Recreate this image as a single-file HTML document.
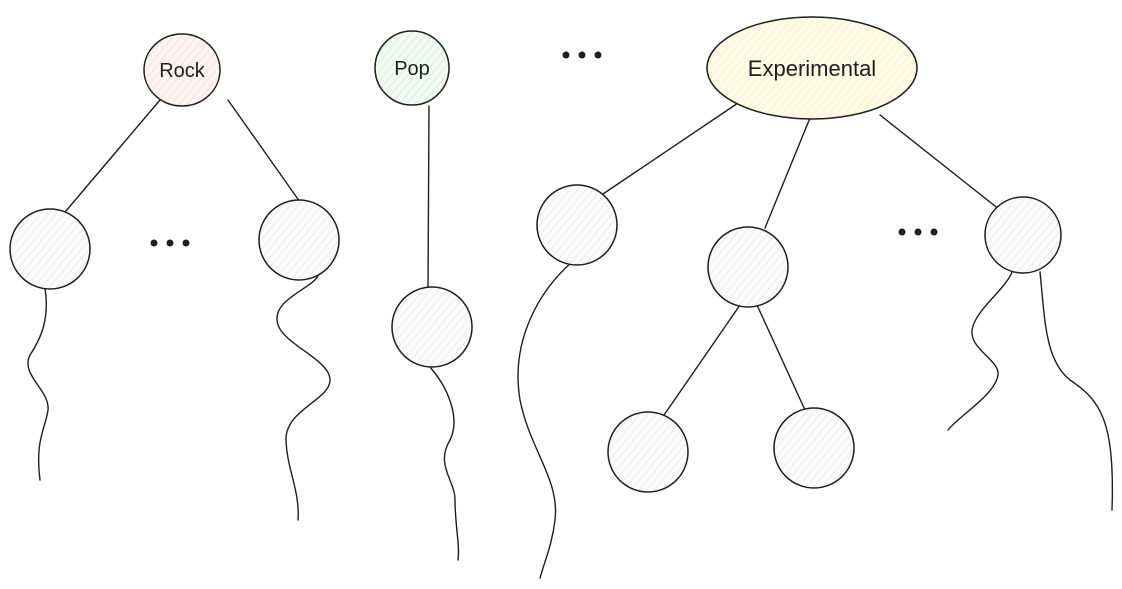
<!DOCTYPE html>
<html><head><meta charset="utf-8"><style>
html,body{margin:0;padding:0;background:#fff;width:1122px;height:589px;overflow:hidden}
text{font-family:"Liberation Sans",sans-serif;fill:#1e1e1e}
</style></head><body>
<svg width="1122" height="589" viewBox="0 0 1122 589" xmlns="http://www.w3.org/2000/svg">
<defs>
<pattern id="hg" width="6" height="6" patternUnits="userSpaceOnUse" patternTransform="rotate(40)"><rect width="6" height="6" fill="#fbfbfb"/><line x1="0" y1="0" x2="0" y2="6" stroke="#e4e4e4" stroke-width="1.5"/></pattern>
<pattern id="hr" width="6" height="6" patternUnits="userSpaceOnUse" patternTransform="rotate(40)"><rect width="6" height="6" fill="#fff4f4"/><line x1="0" y1="0" x2="0" y2="6" stroke="#ffd6d6" stroke-width="1.5"/></pattern>
<pattern id="hgr" width="6" height="6" patternUnits="userSpaceOnUse" patternTransform="rotate(40)"><rect width="6" height="6" fill="#f2fbf4"/><line x1="0" y1="0" x2="0" y2="6" stroke="#cdeed4" stroke-width="1.5"/></pattern>
<pattern id="hy" width="6" height="6" patternUnits="userSpaceOnUse" patternTransform="rotate(40)"><rect width="6" height="6" fill="#fffbea"/><line x1="0" y1="0" x2="0" y2="6" stroke="#fdefb8" stroke-width="1.5"/></pattern>
</defs>
<g stroke="#1e1e1e" stroke-width="1.4" fill="none" stroke-linecap="round">
<line x1="160" y1="100" x2="60" y2="218"/>
<line x1="228" y1="100" x2="300" y2="202"/>
<line x1="429" y1="106" x2="428" y2="289"/>
<line x1="738" y1="103" x2="600" y2="196"/>
<line x1="810" y1="118" x2="765" y2="228"/>
<line x1="880" y1="115" x2="1000" y2="210"/>
<line x1="740" y1="305" x2="662" y2="418"/>
<line x1="757" y1="305" x2="805" y2="410"/>
<path d="M45 288 C50 320 40 340 30 355 C20 375 50 390 48 410 C45 430 35 440 40 480"/>
<path d="M318 276 C310 290 270 300 278 325 C285 345 330 360 330 380 C330 400 285 410 286 440 C287 470 300 490 298 520"/>
<path d="M430 367 C450 390 460 420 450 440 C435 465 455 480 455 500 C455 525 460 545 458 560"/>
<path d="M572 262 C540 290 510 340 520 400 C530 450 560 480 555 520 C552 545 545 560 540 578"/>
<path d="M1012 272 C1005 290 975 310 972 330 C970 350 1000 360 998 375 C995 395 960 415 948 430"/>
<path d="M1040 272 C1045 320 1045 360 1070 380 C1100 400 1115 420 1112 510"/>
</g>
<g stroke="#1e1e1e" stroke-width="1.5">
<ellipse cx="182" cy="70" rx="38" ry="36" fill="url(#hr)"/>
<circle cx="412" cy="68" r="37" fill="url(#hgr)"/>
<ellipse cx="812" cy="68" rx="105" ry="51" fill="url(#hy)"/>
<circle cx="50" cy="249" r="40" fill="url(#hg)"/>
<circle cx="299" cy="240" r="40" fill="url(#hg)"/>
<circle cx="432" cy="327" r="40" fill="url(#hg)"/>
<circle cx="577" cy="225" r="40" fill="url(#hg)"/>
<circle cx="748" cy="267" r="40" fill="url(#hg)"/>
<circle cx="648" cy="452" r="40" fill="url(#hg)"/>
<circle cx="814" cy="448" r="40" fill="url(#hg)"/>
<circle cx="1023" cy="235" r="38" fill="url(#hg)"/>
</g>
<g font-size="20" text-anchor="middle">
<text x="182" y="77">Rock</text>
<text x="412" y="75">Pop</text>
<text x="812" y="76" font-size="22">Experimental</text>
</g>
<g fill="#1e1e1e">
<circle cx="566" cy="55" r="3.5"/><circle cx="582" cy="55" r="3.5"/><circle cx="598" cy="55" r="3.5"/>
<circle cx="154" cy="243" r="3.5"/><circle cx="170" cy="243" r="3.5"/><circle cx="186" cy="243" r="3.5"/>
<circle cx="902" cy="232" r="3.5"/><circle cx="918" cy="232" r="3.5"/><circle cx="934" cy="232" r="3.5"/>
</g>
</svg>
</body></html>
